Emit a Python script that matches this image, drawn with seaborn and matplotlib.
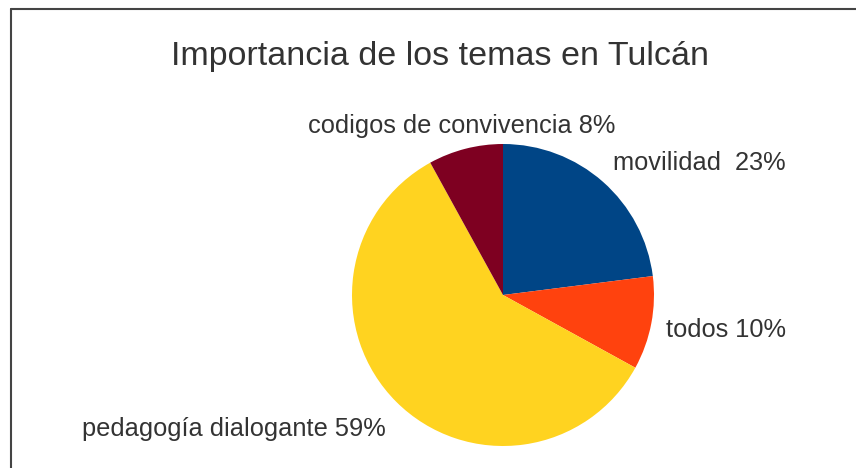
import numpy as np
import matplotlib
matplotlib.use('Agg')
import matplotlib.pyplot as plt
import seaborn as sns
from matplotlib.lines import Line2D

temas = ['movilidad ', 'todos', 'pedagogía dialogante', 'codigos de convivencia']
porcentajes = [23, 10, 59, 8]
colores = ['#004586', '#ff420e', '#ffd320', '#7e0021']

sns.set_theme(style='white')
plt.rcParams['font.family'] = ['Liberation Sans', 'DejaVu Sans']

fig = plt.figure(figsize=(8.56, 4.68), dpi=100)
W, H = 856, 468
cx, cy, r = 503, 295, 151
ax = fig.add_axes([(cx - r) / W, (H - cy - r) / H, 2 * r / W, 2 * r / H])

wedges, _ = ax.pie(porcentajes, colors=colores, startangle=90, counterclock=False,
                   radius=1, wedgeprops=dict(linewidth=0))
ax.set_xlim(-1, 1)
ax.set_ylim(-1, 1)
ax.set_aspect('equal')
ax.axis('off')

# etiquetas fuera del pastel
for w, nombre, p in zip(wedges, temas, porcentajes):
    ang = np.deg2rad((w.theta1 + w.theta2) / 2)
    x, y = 1.1 * np.cos(ang), 1.1 * np.sin(ang)
    ha = 'left' if x > 0.35 else ('right' if x < -0.35 else 'center')
    va = 'bottom' if y > 0.35 else ('top' if y < -0.35 else 'center')
    ax.annotate(f'{nombre} {p}%', (x, y), xytext=(0, -3), textcoords='offset points',
                ha=ha, va=va, fontsize=18.3, color='#333333', annotation_clip=False)

fig.text(440 / W, 1 - 57 / H, 'Importancia de los temas en Tulcán', ha='center', va='center',
         fontsize=24.5, color='#333333')

# marco
fig.add_artist(Line2D([10.5 / W, 10.5 / W], [0, 1 - 8.5 / H], color='#444444', lw=1.5,
                      transform=fig.transFigure))
fig.add_artist(Line2D([10.5 / W, 1], [1 - 8.5 / H, 1 - 8.5 / H], color='#444444', lw=1.5,
                      transform=fig.transFigure))

fig.savefig('out.png', dpi=100, facecolor='white')
